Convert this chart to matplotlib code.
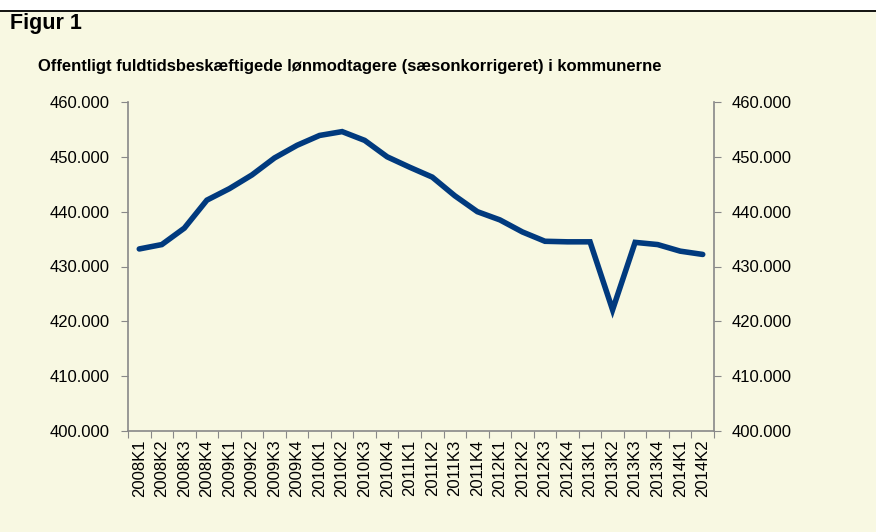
import matplotlib
matplotlib.use("Agg")
import matplotlib.pyplot as plt
from matplotlib.ticker import FuncFormatter
from matplotlib.lines import Line2D
from matplotlib.patches import Rectangle

quarters = ["2008K1", "2008K2", "2008K3", "2008K4",
            "2009K1", "2009K2", "2009K3", "2009K4",
            "2010K1", "2010K2", "2010K3", "2010K4",
            "2011K1", "2011K2", "2011K3", "2011K4",
            "2012K1", "2012K2", "2012K3", "2012K4",
            "2013K1", "2013K2", "2013K3", "2013K4",
            "2014K1", "2014K2"]
employees = [433.2, 434.0, 437.0, 442.1,
             444.2, 446.7, 449.8, 452.1,
             453.9, 454.6, 453.0, 450.0,
             448.1, 446.3, 442.9, 440.0,
             438.5, 436.3, 434.6, 434.5,
             434.5, 422.1, 434.4, 434.0,
             432.8, 432.2]
yticks = [400, 410, 420, 430, 440, 450, 460]

title = "Figur 1"
subtitle = "Offentligt fuldtidsbeskæftigede lønmodtagere (sæsonkorrigeret) i kommunerne"

plt.rcParams['font.family'] = ['Liberation Sans', 'DejaVu Sans']

cream = "#F8F8E2"
fig = plt.figure(figsize=(8.76, 5.32), dpi=100)
fig.patch.set_facecolor("white")
# cream panel below the top rule
fig.patches.append(Rectangle((0, 0), 1, 1 - 10/532, transform=fig.transFigure,
                             facecolor=cream, edgecolor="none", zorder=-5))
fig.lines.append(Line2D([0, 1], [1 - 10.5/532, 1 - 10.5/532], transform=fig.transFigure,
                        color="black", lw=1.3, zorder=-4))

fig.text(10/876, 1 - 23.5/532, title, fontsize=15.5, fontweight="bold", va="center", ha="left")
fig.text(38/876, 1 - 66/532, subtitle, fontsize=12, fontweight="bold", va="center", ha="left")

ax = fig.add_axes([128/876, 1 - 431/532, (714 - 128)/876, (431 - 102)/532])
ax.set_zorder(2)
ax.set_facecolor("none")
x = list(range(len(quarters)))
ax.plot(x, employees, color="#013A7E", lw=4, solid_joinstyle="miter", solid_capstyle="round")
ax.set_xlim(-0.5, len(quarters) - 0.5)
ax.set_ylim(400, 460)
ax.set_yticks(yticks)
fmt = FuncFormatter(lambda v, p: f"{int(round(v))}.000")
ax.yaxis.set_major_formatter(fmt)
ax.set_xticks([i - 0.5 for i in range(len(quarters) + 1)], minor=False)
ax.set_xticklabels([])
ax.set_xticks(x, minor=True)
ax.set_xticklabels(quarters, minor=True, rotation=90, fontsize=12)
ax.tick_params(axis="x", which="minor", length=0, pad=6)
ax.tick_params(axis="x", which="major", length=5, color="#888888", direction="out")

for s in ["top", "right"]:
    ax.spines[s].set_visible(False)
ax.spines["left"].set_color("#888888")
ax.spines["bottom"].set_color("#888888")
ax.spines["left"].set_linewidth(1.2)
ax.spines["bottom"].set_linewidth(1.2)
ax.tick_params(axis="y", length=5, color="#888888", labelsize=12, pad=8)

ax2 = ax.twinx()
ax2.set_zorder(1)
ax2.set_ylim(400, 460)
ax2.set_yticks(yticks)
ax2.yaxis.set_major_formatter(fmt)
for s in ["top", "left", "bottom"]:
    ax2.spines[s].set_visible(False)
ax2.spines["right"].set_color("#888888")
ax2.spines["right"].set_linewidth(1.2)
ax2.tick_params(axis="y", length=5, color="#888888", labelsize=12, pad=8)

fig.savefig("out.png", dpi=100, facecolor=fig.get_facecolor())
